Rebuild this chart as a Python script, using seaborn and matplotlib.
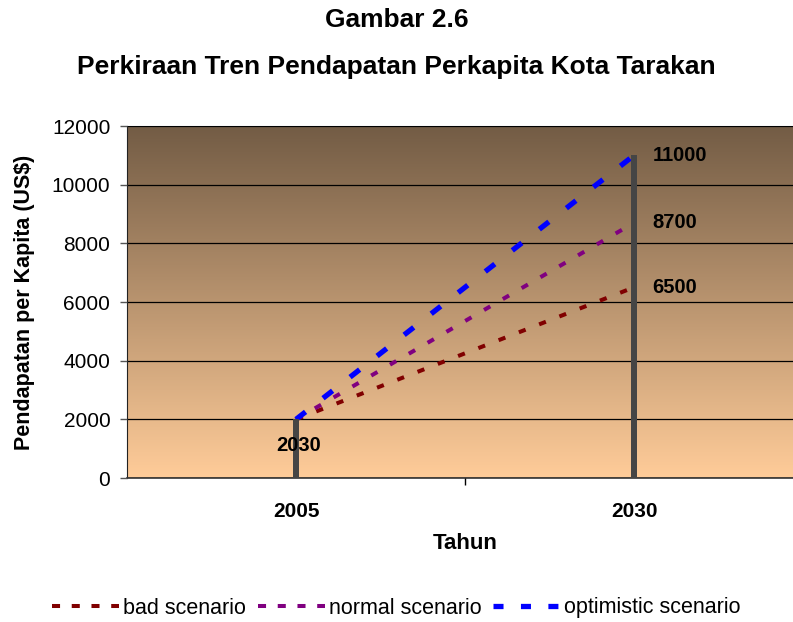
import numpy as np
import pandas as pd
import seaborn as sns
import matplotlib.pyplot as plt
from matplotlib.colors import LinearSegmentedColormap

# data
years = ["2005", "2030"]
bad = [2000, 6500]
normal = [2000, 8700]
optimistic = [2000, 11000]
bar_values = [2000, 11000]
end_labels = ["6500", "8700", "11000"]

sns.set_style("white")
plt.rcParams['font.family'] = ['Liberation Sans', 'DejaVu Sans']
for k in ["text.color", "axes.labelcolor", "xtick.color", "ytick.color"]:
    plt.rcParams[k] = "black"

pos = list(range(len(years)))
df = pd.DataFrame({
    "pos": pos * 3,
    "value": bad + normal + optimistic,
    "scenario": ["bad scenario"] * 2 + ["normal scenario"] * 2 + ["optimistic scenario"] * 2,
})

styles = {
    "bad scenario": dict(color="#800000", lw=2.9, ls=(0, (1.8, 3.6)), leg=(2.0, 2.9)),
    "normal scenario": dict(color="#800080", lw=2.9, ls=(0, (1.8, 3.6)), leg=(2.0, 2.9)),
    "optimistic scenario": dict(color="#0000FF", lw=3.8, ls=(0, (2.3, 4.2)), leg=(1.9, 3.3)),
}

fig = plt.figure(figsize=(7.93, 6.22), dpi=100)
ax = fig.add_axes([127 / 793, 1 - 478 / 622, 676 / 793, 352 / 622])

# gradient background
cmap = LinearSegmentedColormap.from_list("bg", ["#FFCC99", "#735C45"])
grad = np.linspace(0, 1, 256).reshape(-1, 1)
ax.imshow(grad, extent=[-0.5, 1.5, 0, 12000], origin="lower", aspect="auto",
          cmap=cmap, zorder=0)

for name, d in df.groupby("scenario"):
    st = styles[name]
    sns.lineplot(data=d, x="pos", y="value", color=st["color"], linewidth=st["lw"],
                 linestyle=st["ls"], label=name, ax=ax, zorder=3)

ax.bar(pos, bar_values, width=0.016, color="#454545", edgecolor="none",
       linewidth=0, zorder=4)

ax.set_xlim(-0.5, 1.5)
ax.set_ylim(0, 12000)
ax.set_yticks(range(0, 12001, 2000))
ax.yaxis.grid(True, color="black", linewidth=0.9)
ax.set_axisbelow(False)
for gl in ax.get_ygridlines():
    gl.set_zorder(1)

ax.set_xticks(pos)
ax.set_xticklabels(years, fontsize=15, fontweight="bold")
ax.set_xticks([0.5], minor=True)
ax.tick_params(axis="x", which="major", length=0, pad=17)
ax.tick_params(axis="x", which="minor", length=5, width=1, color="black", direction="out")
ax.tick_params(axis="y", length=5, width=1, color="#555555", direction="out", labelsize=15, pad=7)
ax.yaxis.set_ticks_position("left")
ax.xaxis.set_ticks_position("bottom")

ax.set_xlabel("Tahun", fontsize=16, fontweight="bold", labelpad=9)
ax.set_ylabel("Pendapatan per Kapita (US$)", fontsize=15.5, fontweight="bold", labelpad=12)

ax.spines["left"].set_color("#222222")
ax.spines["bottom"].set_color("#333333")
ax.spines["bottom"].set_linewidth(1.2)
ax.spines["top"].set_color("#999999")
ax.spines["right"].set_visible(False)

# data labels
ends = [bad[-1], normal[-1], optimistic[-1]]
for v, lab in zip(ends, end_labels):
    ax.text(pos[-1] + 0.054, v, lab, fontsize=14.5, fontweight="bold",
            va="center", ha="left", zorder=5)
ax.text(pos[0] + 0.008, 1100, "2030", fontsize=14.5, fontweight="bold",
        va="center", ha="center", zorder=5)

fig.text(0.5, 1 - 20 / 622, "Gambar 2.6", ha="center", va="center",
         fontsize=19, fontweight="bold")
fig.text(0.5, 1 - 67 / 622, "Perkiraan Tren Pendapatan Perkapita Kota Tarakan",
         ha="center", va="center", fontsize=19, fontweight="bold")

handles, labels = ax.get_legend_handles_labels()
if ax.get_legend() is not None:
    ax.get_legend().remove()
leg = fig.legend(handles, labels, loc="center", bbox_to_anchor=(0.5, 1 - 608 / 622),
                 ncol=3, frameon=False, fontsize=15.5, handlelength=3.1,
                 handletextpad=0.2, columnspacing=0.55, borderaxespad=0)
for line, lab in zip(leg.get_lines(), labels):
    line.set_linestyle((0, styles[lab]["leg"]))

fig.savefig("out.png", dpi=100)
